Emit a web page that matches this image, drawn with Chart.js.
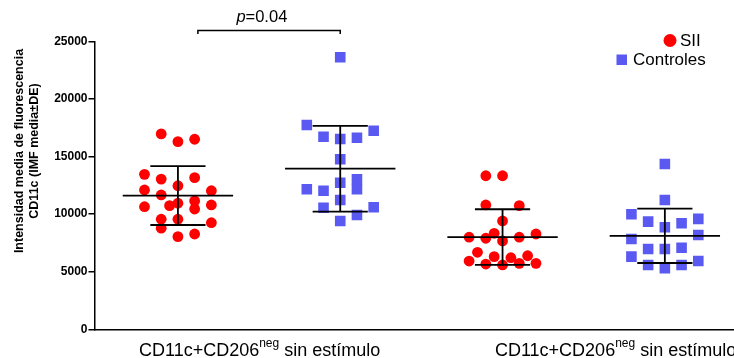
<!DOCTYPE html>
<html>
<head>
<meta charset="utf-8">
<script src="https://cdn.jsdelivr.net/npm/chart.js@4.4.0/dist/chart.umd.min.js"></script>
<style>
  html, body { margin: 0; padding: 0; background: #fff; }
</style>
</head>
<body>
<canvas id="grafico" width="734" height="358"></canvas>
<script>
// Datos (IMF CD11c, media +- DE)
var series = ['SII', 'Controles'];
var grupoX = [0, 1, 2, 3];          // SII, Controles, SII, Controles
var ticksY = [0, 5000, 10000, 15000, 20000, 25000];

var sii1 = [16970, 16300, 16510, 13460, 13050, 13170, 12470, 12100, 11670, 12040, 10950,
            10740, 11150, 10450, 10650, 10800, 9560, 9560, 8780, 9260, 8050, 8280];
var sii1Col = [-1, 0, 1, -2, -1, 1, 0, -2, -1, 2, 0, -0.5, 1, 1, -2, 2, -1, 0, -1, 2, 0, 1];

var ctrl1 = [23630, 17750, 17250, 16730, 16530, 16640, 14770, 12160, 12040, 12730, 13030,
             12160, 11230, 10560, 10600, 9930, 9410];
var ctrl1Col = [0, -2, 2, -1, 0, 1, 0, -2, -1, 0, 1, 1, 0, -1, 2, 1, 0];

var sii2 = [13340, 13340, 10800, 10740, 9410, 8000, 7910, 8340, 7680, 8000, 8280,
            6690, 5930, 6310, 5670, 5590, 6220, 5730, 6390, 5730];
var sii2Col = [-1, 0, -1, 1, 0, -2, -1, -0.5, 0, 1, 2, -1.5, -2, -0.5, -1, 0, 0.5, 1, 1.5, 2];

var ctrl2 = [14360, 11230, 9990, 9350, 8860, 9210, 9590, 8190, 7850, 6980, 6980,
             7090, 6310, 5590, 5300, 5590, 5930];
var ctrl2Col = [0, 0, -2, -1, 0, 1, 2, 2, -2, -1, 0, 1, -2, -1, 0, 1, 2];

var medias = [11620, 13950, 8010, 8120];
var desvios = [2560, 3720, 2420, 2360];

var etiquetaX = 'CD11c+CD206';
var superX = 'neg';
var restoX = ' sin estímulo';
var tituloY = ['Intensidad media de fluorescencia', 'CD11c (IMF media\u00b1DE)'];
var textoP = '=0.04';

var fuente = "'Liberation Sans', Arial, sans-serif";
var paso = 0.103; // ancho de cada columna del jitter

function puntos(valores, cols, centro) {
  return valores.map(function (v, i) {
    return { x: centro + cols[i] * paso, y: v };
  });
}

var extras = {
  id: 'extras',
  afterDatasetsDraw: function (chart) {
    var ctx = chart.ctx, xs = chart.scales.x, ys = chart.scales.y;
    ctx.save();
    ctx.strokeStyle = '#000';
    ctx.lineWidth = 1.8;
    for (var i = 0; i < medias.length; i++) {
      var xc = xs.getPixelForValue(grupoX[i]);
      var xm = xs.getPixelForValue(grupoX[i] + 0.34) - xc;
      var xt = xs.getPixelForValue(grupoX[i] + 0.17) - xc;
      var ym = ys.getPixelForValue(medias[i]);
      var yh = ys.getPixelForValue(medias[i] + desvios[i]);
      var yl = ys.getPixelForValue(medias[i] - desvios[i]);
      ctx.beginPath();
      ctx.moveTo(xc - xm, ym); ctx.lineTo(xc + xm, ym);
      ctx.moveTo(xc, yh); ctx.lineTo(xc, yl);
      ctx.moveTo(xc - xt, yh); ctx.lineTo(xc + xt, yh);
      ctx.moveTo(xc - xt, yl); ctx.lineTo(xc + xt, yl);
      ctx.stroke();
    }
    ctx.restore();
  },
  afterDraw: function (chart) {
    var ctx = chart.ctx, xs = chart.scales.x;
    ctx.save();
    ctx.fillStyle = '#000';
    ctx.strokeStyle = '#000';

    // corchete p
    var b1 = xs.getPixelForValue(0.123), b2 = xs.getPixelForValue(1);
    ctx.lineWidth = 1.5;
    ctx.beginPath();
    ctx.moveTo(b1, 34); ctx.lineTo(b1, 30.5); ctx.lineTo(b2, 30.5); ctx.lineTo(b2, 34);
    ctx.stroke();
    ctx.textBaseline = 'alphabetic';
    ctx.font = 'italic 16.5px ' + fuente;
    var wp = ctx.measureText('p').width;
    ctx.font = '16.5px ' + fuente;
    var wr = ctx.measureText(textoP).width;
    var xp = xs.getPixelForValue(0.517) - (wp + wr) / 2;
    ctx.font = 'italic 16.5px ' + fuente;
    ctx.textAlign = 'left';
    ctx.fillText('p', xp, 22);
    ctx.font = '16.5px ' + fuente;
    ctx.fillText(textoP, xp + wp, 22);

    // etiquetas de categoria (alineadas a la izquierda, la segunda queda cortada)
    [-0.240, 1.953].forEach(function (pos) {
      var x0 = xs.getPixelForValue(pos);
      ctx.font = '18px ' + fuente;
      var w1 = ctx.measureText(etiquetaX).width;
      ctx.fillText(etiquetaX, x0, 356);
      ctx.font = '12px ' + fuente;
      var w2 = ctx.measureText(superX).width;
      ctx.fillText(superX, x0 + w1, 347);
      ctx.font = '18px ' + fuente;
      ctx.fillText(restoX, x0 + w1 + w2, 356);
    });

    // titulo eje Y
    ctx.font = 'bold 12.5px ' + fuente;
    ctx.textAlign = 'center';
    ctx.textBaseline = 'middle';
    ctx.translate(0, 151);
    ctx.rotate(-Math.PI / 2);
    ctx.fillText(tituloY[0], 0, 20);
    ctx.fillText(tituloY[1], 0, 35);
    ctx.setTransform(1, 0, 0, 1, 0, 0);

    // leyenda
    ctx.fillStyle = '#ff0000';
    ctx.beginPath();
    ctx.arc(670, 40.5, 6.5, 0, Math.PI * 2);
    ctx.fill();
    ctx.fillStyle = '#5a5af2';
    ctx.fillRect(616.5, 54.5, 10.5, 10.5);
    ctx.fillStyle = '#000';
    ctx.textAlign = 'left';
    ctx.font = '17px ' + fuente;
    ctx.fillText(series[0], 680, 41);
    ctx.fillText(series[1], 633, 60.5);
    ctx.restore();
  }
};

new Chart(document.getElementById('grafico'), {
  type: 'scatter',
  plugins: [extras],
  data: {
    datasets: [{
      label: series[0],
      data: puntos(sii1, sii1Col, grupoX[0]).concat(puntos(sii2, sii2Col, grupoX[2])),
      pointStyle: 'circle',
      pointRadius: 5.4,
      backgroundColor: '#ff0000',
      borderWidth: 0
    }, {
      label: series[1],
      data: puntos(ctrl1, ctrl1Col, grupoX[1]).concat(puntos(ctrl2, ctrl2Col, grupoX[3])),
      pointStyle: 'rect',
      pointRadius: 7.5,
      backgroundColor: '#5a5af2',
      borderWidth: 0
    }]
  },
  options: {
    responsive: false,
    devicePixelRatio: 1,
    animation: false,
    layout: { autoPadding: false, padding: { top: 41.5, right: 0, left: 0, bottom: 0 } },
    plugins: { legend: { display: false }, tooltip: { enabled: false } },
    scales: {
      x: {
        type: 'linear',
        min: -0.514,
        max: 3.426,
        grid: { display: false },
        border: { display: true, color: '#000', width: 1.5 },
        ticks: { display: false },
        afterFit: function (s) { s.height = 28.7; }
      },
      y: {
        min: 0,
        max: 25000,
        afterBuildTicks: function (s) { s.ticks = ticksY.map(function (v) { return { value: v }; }); },
        grid: { display: true, drawOnChartArea: false, drawTicks: true, tickLength: 6, color: '#000', lineWidth: 1.5 },
        border: { display: true, color: '#000', width: 1.5 },
        ticks: {
          color: '#000', padding: 1,
          font: { family: fuente, size: 12, weight: 'bold' },
          callback: function (v) { return String(v); }
        },
        afterFit: function (s) { s.width = 94.5; }
      }
    }
  }
});
</script>
</body>
</html>
